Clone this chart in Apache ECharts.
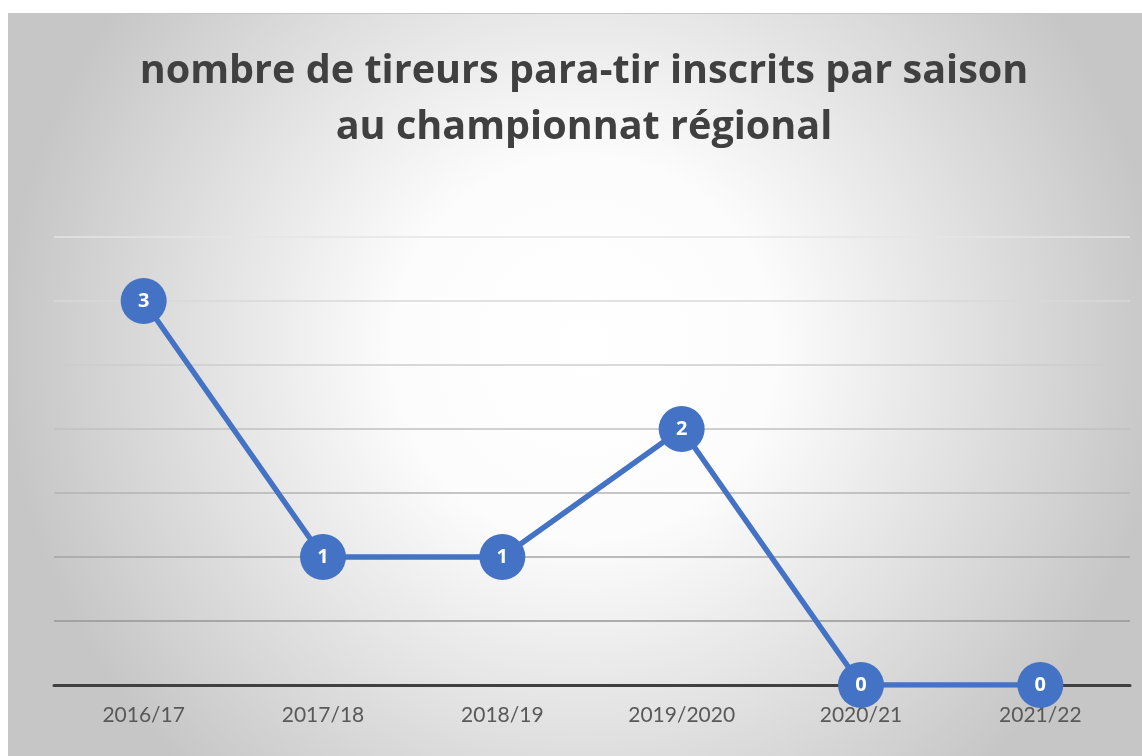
<!DOCTYPE html>
<html>
<head>
<meta charset="utf-8">
<script src="https://cdn.jsdelivr.net/npm/echarts@6/dist/echarts.min.js"></script>
<style>
  html, body { margin: 0; padding: 0; background: #fff; overflow: hidden; }
  #chart {
    position: absolute; left: 8px; top: 13px;
    width: 1150px; height: 743px;
    border-top: 1px solid #c6c6c6; border-left: 1px solid #c6c6c6;
  }
</style>
</head>
<body>
<div id="chart"></div>
<script>
var seasons = ['2016/17', '2017/18', '2018/19', '2019/2020', '2020/21', '2021/22'];
var tireurs = [3, 1, 1, 2, 0, 0];
var titre = 'nombre de tireurs para-tir inscrits par saison\nau championnat régional';
// gridline colours, from value 0 upwards (lighter near the top)
var gridColors = ['#404040', '#969696', '#a4a4a4', '#b3b3b3', '#c1c1c1', '#cdcdcd', '#d9d9d9', '#e4e4e4'];

var chart = echarts.init(document.getElementById('chart'));
chart.setOption({
  backgroundColor: {
    type: 'radial', x: 0.5, y: 0.45, r: 0.78,
    colorStops: [
      { offset: 0, color: '#ffffff' },
      { offset: 0.33, color: '#fcfcfc' },
      { offset: 1, color: '#c6c6c6' }
    ]
  },
  title: {
    text: titre,
    left: 'center',
    top: 25,
    textStyle: {
      fontFamily: 'Open Sans',
      fontWeight: 'bold',
      fontSize: 39.6,
      lineHeight: 56,
      color: '#404040'
    }
  },
  grid: {
    left: 45,
    right: 29,
    top: 223,
    bottom: 72,
    containLabel: false
  },
  xAxis: {
    type: 'category',
    data: seasons,
    boundaryGap: true,
    axisLine: { lineStyle: { color: '#404040', width: 3 } },
    axisTick: { show: false },
    axisLabel: {
      margin: 20,
      fontFamily: 'Lato',
      fontSize: 21,
      color: '#595959'
    }
  },
  yAxis: {
    type: 'value',
    min: 0,
    max: 3.5,
    interval: 0.5,
    axisLine: { show: false },
    axisTick: { show: false },
    axisLabel: { show: false },
    splitLine: { lineStyle: { color: gridColors, width: 1.5 } }
  },
  series: [{
    type: 'line',
    data: tireurs,
    symbol: 'circle',
    symbolSize: 46,
    lineStyle: { color: '#4472c4', width: 5.5 },
    itemStyle: { color: '#4472c4' },
    label: {
      show: true,
      position: 'inside',
      color: '#fff',
      fontFamily: 'Open Sans',
      fontWeight: 'bold',
      fontSize: 20
    },
    z: 5
  }]
});
</script>
</body>
</html>
